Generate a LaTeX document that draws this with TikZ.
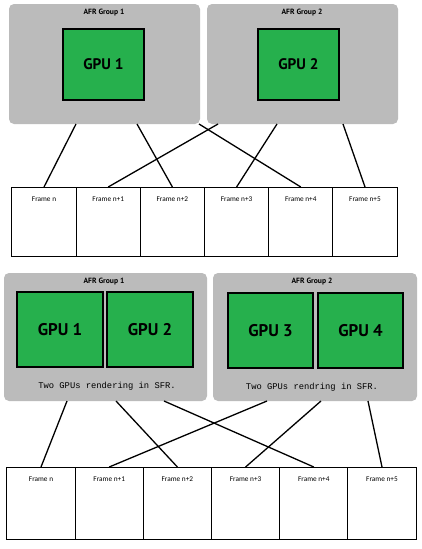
\documentclass[tikz,border=0pt]{standalone}
\usepackage{fontspec}
\usepackage{tikz}
\usetikzlibrary{positioning}
\newfontfamily\grpfont{PT Sans}
\newfontfamily\framefont{Carlito}
\newfontfamily\monofont{Liberation Mono}
\definecolor{grpgray}{HTML}{BBBBBB}
\definecolor{gpugreen}{HTML}{26B04D}
\tikzset{
  group/.style={fill=grpgray, rounded corners=5pt, inner sep=0pt, outer sep=0pt},
  gpubox/.style={draw=black, fill=gpugreen, line width=1.8pt, inner sep=0pt, font=\grpfont\bfseries},
  grptitle/.style={font=\grpfont\bfseries\fontsize{7.6}{9}\selectfont},
  sfrnote/.style={font=\monofont\fontsize{8.8}{10}\selectfont},
  frame/.style={draw=black, line width=1pt, inner sep=0pt, outer sep=0pt},
  framelbl/.style={anchor=north, yshift=-6pt, font=\framefont\fontsize{7.3}{8}\selectfont},
  link/.style={line width=1.3pt},
}
\begin{document}
\begin{tikzpicture}[x=1pt, y=-1pt]
  \useasboundingbox (0,0) rectangle (421,549);

  % upper diagram: one GPU per AFR group
  \node[group, minimum width=191pt, minimum height=120pt] (grpA) at (104.5,64) {};
  \node[group, minimum width=191pt, minimum height=120pt] (grpB) at (302.5,64) {};
  \node[grptitle] (titA) at (104,13) {AFR Group 1};
  \node[grptitle] (titB) at (302,13) {AFR Group 2};
  \node[gpubox, minimum width=81pt, minimum height=71pt, font=\grpfont\bfseries\fontsize{15.3}{17}\selectfont] (gpuA1) at (103.5,64.5) {GPU 1};
  \node[gpubox, minimum width=81pt, minimum height=71pt, font=\grpfont\bfseries\fontsize{15.3}{17}\selectfont] (gpuB1) at (298.5,64.5) {GPU 2};

  \node[frame, minimum width=64.2pt, minimum height=69pt, label={[framelbl]north:Frame n}] (fa1) at (44,221.5) {};
  \foreach \k [evaluate=\k as \p using int(\k-1)] in {2,...,6}
    \node[frame, minimum width=64.2pt, minimum height=69pt, right=0pt of fa\p, label={[framelbl]north:Frame n+\p}] (fa\k) {};

  \draw[link] ([xshift=-28.5pt]grpA.south) -- (fa1.north);
  \draw[link] ([xshift=32.5pt]grpA.south) -- (fa3.north);
  \draw[link] ([xshift=94.5pt]grpA.south) -- (fa5.north);
  \draw[link] ([xshift=-84.5pt]grpB.south) -- (fa2.north);
  \draw[link] ([xshift=-25.5pt]grpB.south) -- (fa4.north);
  \draw[link] ([xshift=40.5pt]grpB.south) -- (fa6.north);

  % lower diagram: two GPUs in SFR per AFR group
  \node[group, minimum width=203pt, minimum height=128pt] (grpC) at (105.5,337) {};
  \node[group, minimum width=204pt, minimum height=128pt] (grpD) at (315,337) {};
  \node[grptitle] (titC) at (104,282) {AFR Group 1};
  \node[grptitle] (titD) at (312,282) {AFR Group 2};
  \node[gpubox, minimum width=86pt, minimum height=75pt, font=\grpfont\bfseries\fontsize{16.9}{19}\selectfont] (gpuC1) at (60,329.5) {GPU 1};
  \node[gpubox, minimum width=86pt, minimum height=75pt, font=\grpfont\bfseries\fontsize{16.9}{19}\selectfont] (gpuC2) at (150,329.5) {GPU 2};
  \node[gpubox, minimum width=85pt, minimum height=75pt, font=\grpfont\bfseries\fontsize{16.9}{19}\selectfont] (gpuD1) at (270.5,330.5) {GPU 3};
  \node[gpubox, minimum width=85pt, minimum height=75pt, font=\grpfont\bfseries\fontsize{16.9}{19}\selectfont] (gpuD2) at (360.5,330.5) {GPU 4};
  \node[sfrnote] (sfrC) at (107,386) {Two GPUs rendering in SFR.};
  \node[sfrnote] (sfrD) at (312,387) {Two GPUs rendring in SFR.};

  \node[frame, minimum width=68.2pt, minimum height=72pt, label={[framelbl]north:Frame n}] (fb1) at (41,503) {};
  \foreach \k [evaluate=\k as \p using int(\k-1)] in {2,...,6}
    \node[frame, minimum width=68.2pt, minimum height=72pt, right=0pt of fb\p, label={[framelbl]north:Frame n+\p}] (fb\k) {};

  \draw[link] ([xshift=-38.5pt]grpC.south) -- (fb1.north);
  \draw[link] ([xshift=10.5pt]grpC.south) -- (fb3.north);
  \draw[link] ([xshift=58.5pt]grpC.south) -- (fb5.north);
  \draw[link] ([xshift=-48pt]grpD.south) -- (fb2.north);
  \draw[link] ([xshift=6pt]grpD.south) -- (fb4.north);
  \draw[link] ([xshift=53pt]grpD.south) -- (fb6.north);
\end{tikzpicture}
\end{document}
